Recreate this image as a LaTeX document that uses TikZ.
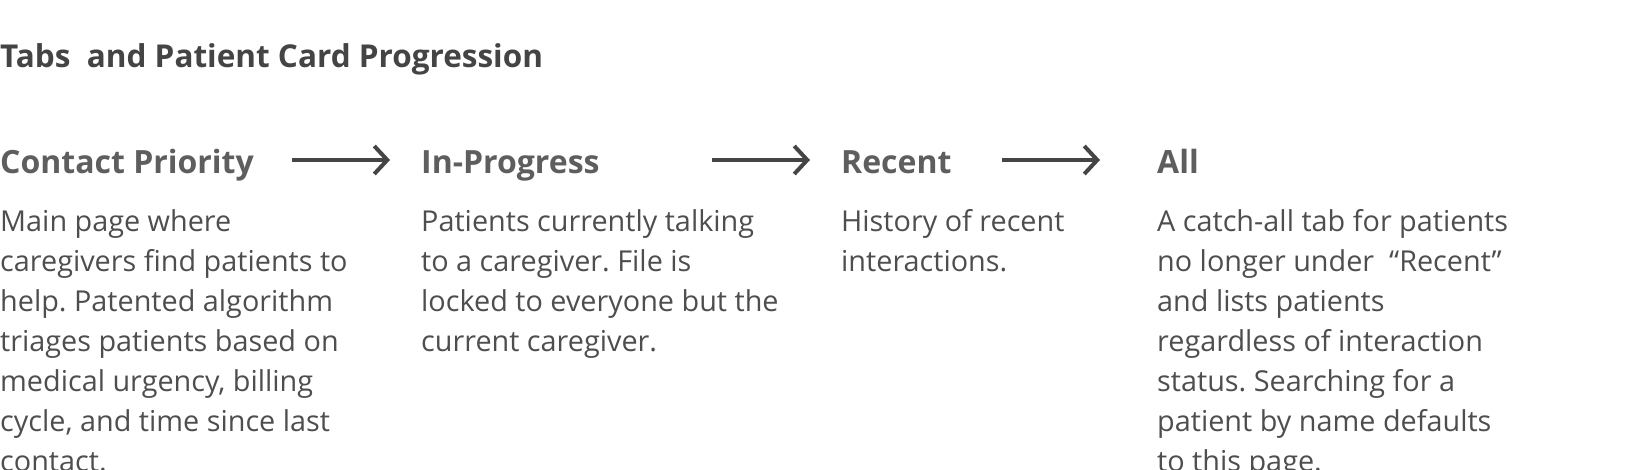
\documentclass[tikz,border=0pt]{standalone}
\usepackage{fontspec}
\setmainfont{Open Sans}
\usepackage{xcolor}
\usepackage{tikz}
\usetikzlibrary{arrows.meta, positioning, calc}
\frenchspacing

\definecolor{titlegray}{HTML}{444444}
\definecolor{headgray}{HTML}{5E5E5E}
\definecolor{bodygray}{HTML}{4E4E4E}
\definecolor{arrowgray}{HTML}{454545}

\begin{document}
\begin{tikzpicture}[
    x=1pt, y=1pt,
    titletxt/.style={anchor=base west, inner sep=0pt, text=titlegray, font=\fontsize{31.5}{36}\selectfont\bfseries},
    tabhead/.style={anchor=base west, inner sep=0pt, text=headgray, font=\fontsize{32}{40}\selectfont\bfseries},
    bodytxt/.style={anchor=north west, inner sep=0pt, align=left, text=bodygray, font=\fontsize{28.8}{40}\selectfont},
    arr/.style={-{Straight Barb[length=13pt, width=28pt]}, line width=4pt, color=arrowgray}
]
\useasboundingbox (0,0) rectangle (1626,-470);

\node[titletxt] (title) at (0,-68) {Tabs\ \ and Patient Card Progression};

% tab headers
\node[tabhead] (hdPriority) at (0,-174) {Contact Priority};
\node[tabhead] (hdProgress) at (421,-174) {In-Progress};
\node[tabhead] (hdRecent) at (841,-174) {Recent};
\node[tabhead] (hdAll) at (1157,-174) {All};

% descriptions
\node[bodytxt, below=29pt of hdPriority.base west, anchor=north west] (txPriority) {\strut Main page where\\caregivers find patients to\\help. Patented algorithm\\triages patients based on\\medical urgency, billing\\cycle, and time since last\\contact.};
\node[bodytxt, below=29pt of hdProgress.base west, anchor=north west] (txProgress) {\strut Patients currently talking\\to a caregiver. File is\\locked to everyone but the\\current caregiver.};
\node[bodytxt, below=29pt of hdRecent.base west, anchor=north west] (txRecent) {\strut History of recent\\interactions.};
\node[bodytxt, below=29pt of hdAll.base west, anchor=north west] (txAll) {\strut A catch-all tab for patients\\no longer under\ \ ``Recent''\\and lists patients\\regardless of interaction\\status. Searching for a\\patient by name defaults\\to this page.};

% progression arrows
\draw[arr] ([shift={(-129,14)}]hdProgress.base west) -- ([shift={(-31,14)}]hdProgress.base west);
\draw[arr] ([shift={(-129,14)}]hdRecent.base west) -- ([shift={(-31,14)}]hdRecent.base west);
\draw[arr] ([shift={(-155,14)}]hdAll.base west) -- ([shift={(-57,14)}]hdAll.base west);

\end{tikzpicture}
\end{document}
